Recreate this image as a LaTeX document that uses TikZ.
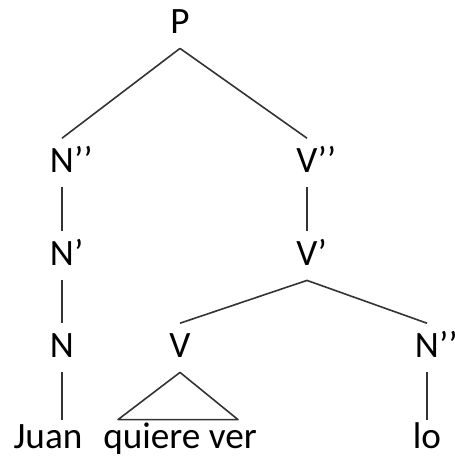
\documentclass[tikz,border=0pt]{standalone}
\usepackage{fontspec}
\setmainfont{Carlito}
\usetikzlibrary{calc}
\begin{document}
\begin{tikzpicture}[x=0.5pt,y=-0.5pt,
	cat/.style={font=\fontsize{18.6}{20}\selectfont, anchor=base, inner xsep=0pt, inner ysep=5.5pt, text height=11.2pt, text depth=2pt},
	leaf/.style={cat, inner ysep=2.8pt},
	edge/.style={draw=black!80, line width=0.8pt, line join=round}]
	\useasboundingbox (0,0) rectangle (455,457);
	\node[cat] (P) at (180,33) {P};
	\node[cat] (N2) at (62,172) {N\rlap{’’}};
	\node[cat] (V2) at (307,172) {V\rlap{’’}};
	\node[cat] (N1) at (62,265) {N\rlap{’}};
	\node[cat] (V1) at (307,265) {V\rlap{’}};
	\node[cat] (N) at (62,357) {N};
	\node[cat] (V) at (180,357) {V};
	\node[cat] (N2r) at (427,357) {N\rlap{’’}};
	\node[leaf] (juan) at (48,448) {Juan};
	\node[leaf] (qv) at (180,448) {quiere ver};
	\node[leaf] (lo) at (427,448) {lo};
	\path[edge] (P.south) -- (N2.north);
	\path[edge] (P.south) -- (V2.north);
	\path[edge] (N2.south) -- (N1.north);
	\path[edge] (V2.south) -- (V1.north);
	\path[edge] (N1.south) -- (N.north);
	\path[edge] (V1.south) -- (V.north);
	\path[edge] (V1.south) -- (N2r.north);
	\path[edge] (N.south) -- (N.south |- juan.north);
	\path[edge] (V.south) -- ($(qv.north)+(-62,0)$) -- ($(qv.north)+(58,0)$) -- cycle;
	\path[edge] (N2r.south) -- (lo.north);
\end{tikzpicture}
\end{document}
